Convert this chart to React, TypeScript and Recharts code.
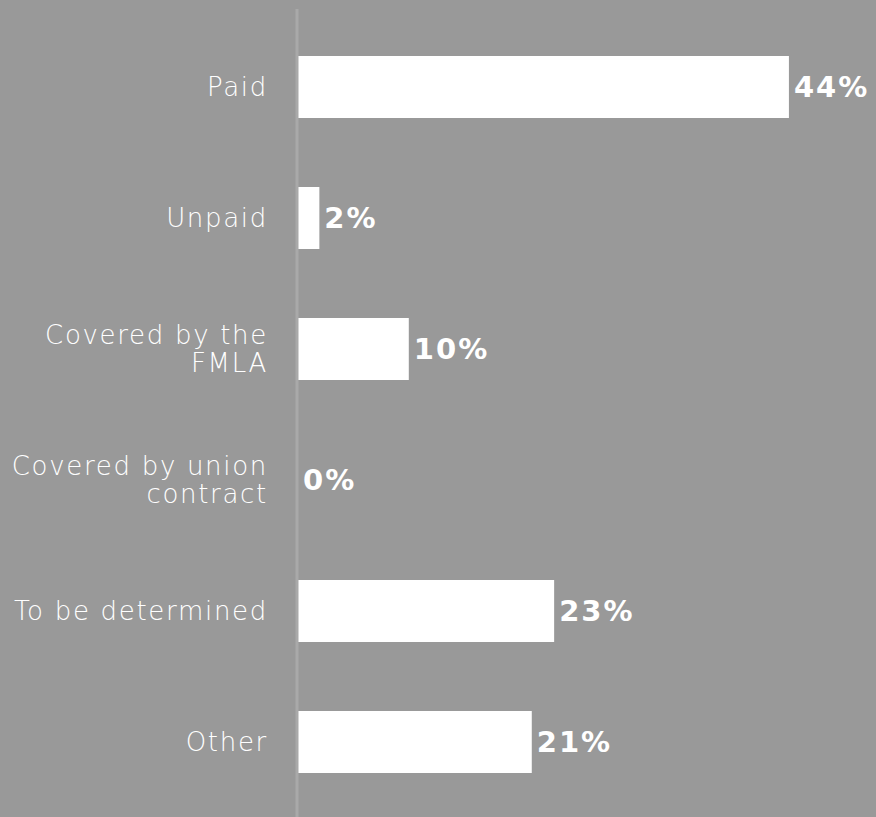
import { BarChart, Bar, XAxis, YAxis, LabelList } from "recharts";

const categories = [
  "Paid",
  "Unpaid",
  "Covered by the FMLA",
  "Covered by union contract",
  "To be determined",
  "Other"
];
const tickLines: Record<string, string[]> = {
  "Covered by the FMLA": ["Covered by the", "FMLA"],
  "Covered by union contract": ["Covered by union", "contract"]
};
const shares = [44, 2, 10, 0, 23, 21];

const data = categories.map((name, i) => ({ name, value: shares[i] }));

const FONT = "'DejaVu Sans', sans-serif";

function CategoryTick(props: any) {
  const { x, y, payload } = props;
  const lines = tickLines[payload.value] || [payload.value];
  const start = -((lines.length - 1) * 28) / 2;
  return (
    <text
      x={x}
      y={y}
      textAnchor="end"
      fill="#ffffff"
      fontFamily={FONT}
      fontSize={26}
      fontWeight={300}
      letterSpacing={1.7}
    >
      {lines.map((l, i) => (
        <tspan key={i} x={x} dy={i === 0 ? start + 9 : 28}>
          {l}
        </tspan>
      ))}
    </text>
  );
}

function ValueLabel(props: any) {
  const { x, y, width, height, value } = props;
  return (
    <text
      x={Number(x) + Number(width) + 5}
      y={Number(y) + Number(height) / 2 + 10}
      fill="#ffffff"
      fontFamily={FONT}
      fontSize={29}
      fontWeight={700}
      letterSpacing={2}
    >
      {`${value}%`}
    </text>
  );
}

export default function App() {
  return (
    <div style={{ width: 876, height: 817, background: "#999999" }}>
      <style>{`body{margin:0}`}</style>
      <BarChart
        width={876}
        height={817}
        data={data}
        layout="vertical"
        margin={{ top: 9, right: 20, bottom: 0, left: 0 }}
      >
        <XAxis type="number" domain={[0, 50]} hide />
        <Bar
          dataKey="value"
          fill="#ffffff"
          barSize={62}
          minPointSize={1}
          isAnimationActive={false}
        >
          <LabelList dataKey="value" content={<ValueLabel />} />
        </Bar>
        <YAxis
          type="category"
          dataKey="name"
          width={297}
          padding={{ top: 12, bottom: 10 }}
          axisLine={{ stroke: "#a9a9a9", strokeWidth: 3 }}
          tickLine={false}
          tickSize={0}
          tickMargin={29}
          tick={<CategoryTick />}
          interval={0}
        />
      </BarChart>
    </div>
  );
}
